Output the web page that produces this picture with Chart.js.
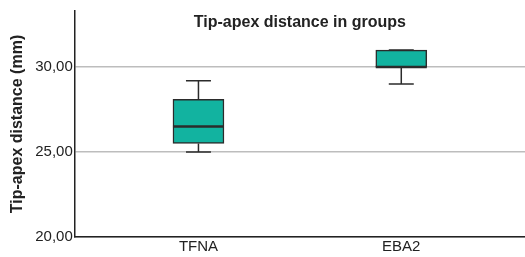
<!DOCTYPE html>
<html>
<head>
<meta charset="utf-8">
<script src="https://cdn.jsdelivr.net/npm/chart.js@4"></script>
<style>
  body { margin: 0; background: #fff; overflow: hidden; }
  #wrap { width: 525px; height: 257px; }
</style>
</head>
<body>
<div id="wrap"><canvas id="myChart"></canvas></div>
<script>
// box plot values
const categories = ["TFNA", "EBA2"];
const mins = [25.0, 29.0];
const q1 = [25.5, 30.0];
const medians = [26.5, 30.0];
const q3 = [28.1, 31.0];
const maxs = [29.2, 31.0];
const yTicks = [20, 25, 30];

const chartTitle = "Tip-apex distance in groups";
const yTitle = "Tip-apex distance (mm)";

const font = "'Liberation Sans', Arial, sans-serif";

// whiskers, caps and median line drawn on top of the boxes
const whiskers = {
  id: "whiskers",
  afterDatasetsDraw(chart) {
    const ctx = chart.ctx;
    const xs = chart.scales.x, ys = chart.scales.y;
    ctx.save();
    ctx.strokeStyle = "#2b2b2b";
    categories.forEach((c, i) => {
      const cx = xs.getPixelForValue(i + 1);
      ctx.lineWidth = 1.5;
      ctx.beginPath();
      ctx.moveTo(cx, ys.getPixelForValue(mins[i]));
      ctx.lineTo(cx, ys.getPixelForValue(q1[i]));
      ctx.moveTo(cx, ys.getPixelForValue(q3[i]));
      ctx.lineTo(cx, ys.getPixelForValue(maxs[i]));
      ctx.moveTo(cx - 12.5, ys.getPixelForValue(mins[i]));
      ctx.lineTo(cx + 12.5, ys.getPixelForValue(mins[i]));
      ctx.moveTo(cx - 12.5, ys.getPixelForValue(maxs[i]));
      ctx.lineTo(cx + 12.5, ys.getPixelForValue(maxs[i]));
      ctx.stroke();
      ctx.lineWidth = 2.5;
      ctx.beginPath();
      ctx.moveTo(cx - 25.5, ys.getPixelForValue(medians[i]));
      ctx.lineTo(cx + 25.5, ys.getPixelForValue(medians[i]));
      ctx.stroke();
    });
    // title sits inside the plot area
    const a = chart.chartArea;
    ctx.fillStyle = "#222";
    ctx.font = "bold 16px " + font;
    ctx.textAlign = "center";
    ctx.textBaseline = "middle";
    ctx.fillText(chartTitle, (a.left + a.right) / 2, 23);
    ctx.restore();
  }
};

const chart = document.querySelector("#myChart");

new Chart(chart, {
  type: "bar",
  data: {
    datasets: [{
      data: categories.map((c, i) => ({ x: i + 1, y: [q1[i], q3[i]] })),
      backgroundColor: "#12b3a0",
      borderColor: "#2b2b2b",
      borderWidth: 1.5,
      borderSkipped: false,
      barThickness: 51
    }]
  },
  options: {
    responsive: true,
    maintainAspectRatio: false,
    animation: false,
    layout: { padding: { top: 9, left: 8, right: 0, bottom: 0 } },
    plugins: {
      legend: { display: false },
      tooltip: { enabled: false }
    },
    scales: {
      x: {
        type: "linear",
        offset: false,
        min: 0.39,
        max: 2.61,
        afterBuildTicks: (s) => { s.ticks = categories.map((c, i) => ({ value: i + 1 })); },
        ticks: {
          callback: (v) => categories[v - 1] || "",
          color: "#222",
          font: { family: font, size: 15 },
          padding: 1,
          maxRotation: 0
        },
        grid: { display: false, drawTicks: false, offset: false },
        border: { color: "#222", width: 1.5 }
      },
      y: {
        min: 20,
        max: 33.3,
        afterBuildTicks: (s) => { s.ticks = yTicks.map(v => ({ value: v })); },
        ticks: {
          callback: (v) => v.toFixed(2).replace(".", ","),
          color: "#222",
          font: { family: font, size: 15 },
          padding: 2
        },
        grid: { color: "#bdbdbd", lineWidth: 1.5, drawTicks: false },
        border: { color: "#222", width: 1.5 },
        title: {
          display: true,
          text: yTitle,
          color: "#222",
          font: { family: font, size: 16, weight: "bold" },
          padding: { top: 0, bottom: 6 }
        }
      }
    }
  },
  plugins: [whiskers]
});
</script>
</body>
</html>
